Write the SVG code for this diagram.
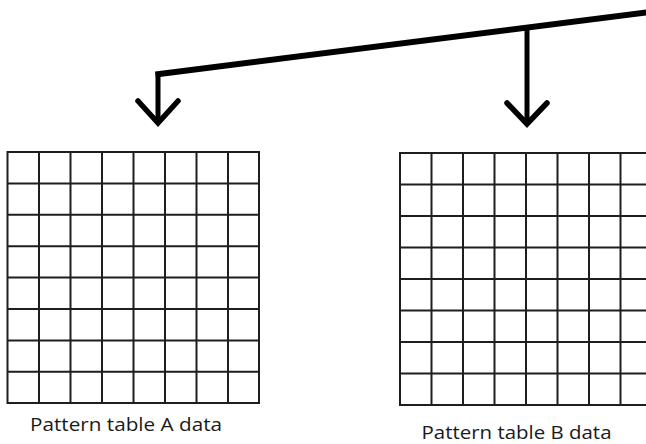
<svg xmlns="http://www.w3.org/2000/svg" width="646" height="444" viewBox="0 0 646 444">
  <style>
    .wire { fill: none; stroke: #000; stroke-width: 6; stroke-linecap: butt; }
    .drop { fill: none; stroke: #000; stroke-width: 5; }
    .head { fill: none; stroke: #000; stroke-width: 5.5; stroke-linecap: round; stroke-linejoin: miter; }
    .grid { fill: none; stroke: #1e1e1e; stroke-width: 2; }
    .label { font-family: "Open Sans", "Noto Sans", sans-serif; font-size: 19px; fill: #1a1a1a; }
  </style>

  <rect width="646" height="444" fill="#fff"/>

  <!-- bus line feeding both pattern tables -->
  <g id="connectors">
    <path class="wire" d="M155.5 74.5 L650 12"/>
    <path class="drop" d="M158 72 V122"/>
    <path class="head" d="M138 101 L158 123 L178 101"/>
    <path class="drop" d="M527 28 V123"/>
    <path class="head" d="M507 103 L527 124 L547 103"/>
  </g>

  <!-- 8x8 tile grid, table A -->
  <g id="tableA">
    <g class="grid">
      <rect x="7.5" y="152" width="251.5" height="251"/>
      <path d="M39 152 V403 M70.5 152 V403 M102 152 V403 M133.5 152 V403 M165 152 V403 M196.5 152 V403 M228 152 V403"/>
      <path d="M7.5 183.4 H259 M7.5 214.8 H259 M7.5 246.2 H259 M7.5 277.6 H259 M7.5 309 H259 M7.5 340.4 H259 M7.5 371.8 H259"/>
    </g>
    <text class="label" x="30" y="431" textLength="192" lengthAdjust="spacingAndGlyphs">Pattern table A data</text>
  </g>

  <!-- 8x8 tile grid, table B (runs past the right edge) -->
  <g id="tableB">
    <g class="grid">
      <rect x="400" y="153" width="252" height="252"/>
      <path d="M431.5 153 V405 M463 153 V405 M494.5 153 V405 M526 153 V405 M557.5 153 V405 M589 153 V405 M620.5 153 V405"/>
      <path d="M400 184.5 H652 M400 216 H652 M400 247.5 H652 M400 279 H652 M400 310.5 H652 M400 342 H652 M400 373.5 H652"/>
    </g>
    <text class="label" x="421.5" y="439" textLength="190" lengthAdjust="spacingAndGlyphs">Pattern table B data</text>
  </g>
</svg>
